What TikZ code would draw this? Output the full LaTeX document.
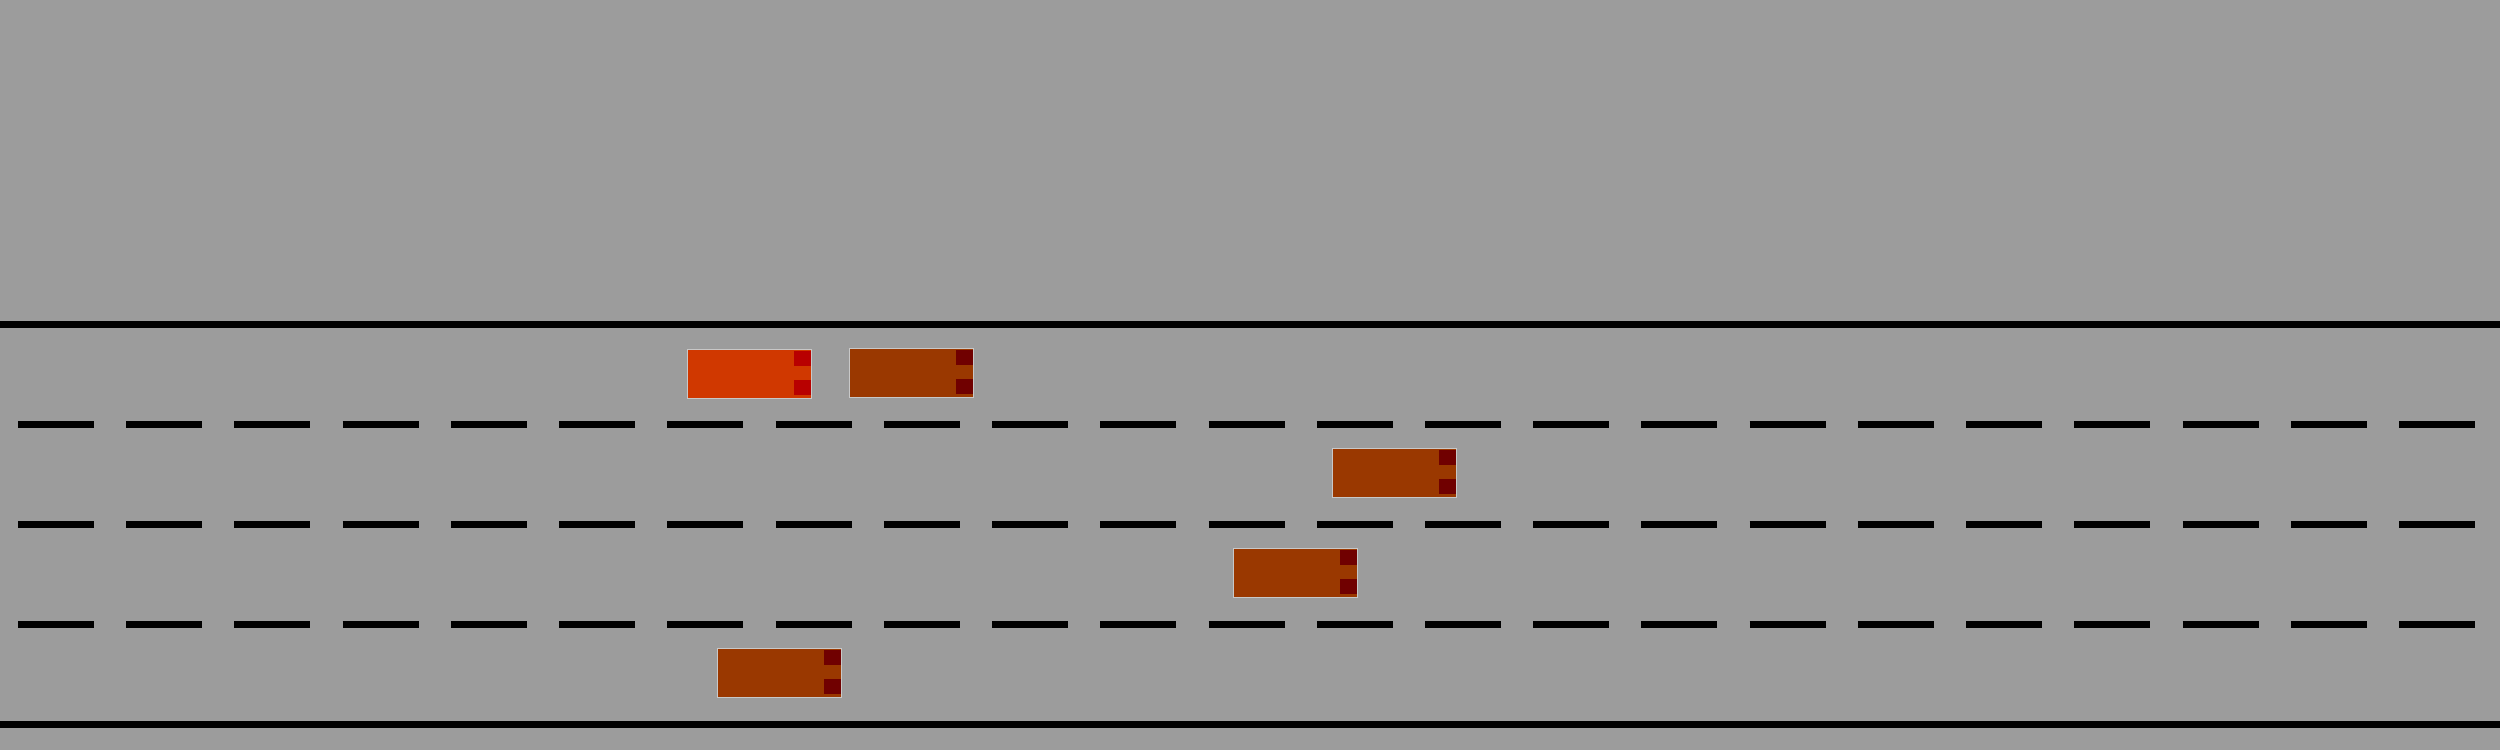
\documentclass[tikz,border=0pt]{standalone}
\definecolor{road}{RGB}{156,156,156}
\definecolor{egocar}{RGB}{208,56,0}
\definecolor{egolight}{RGB}{184,0,0}
\definecolor{othercar}{RGB}{154,56,0}
\definecolor{otherlight}{RGB}{112,0,0}
\definecolor{carborder}{RGB}{200,200,200}
\tikzset{
  edgeline/.style={line width=0.07cm, black},
  laneline/.style={line width=0.07cm, black},
  carbody/.style={draw=carborder, line width=0.015cm},
  carlight/.style={inner sep=0pt, outer sep=0pt},
}
% #1 name, #2 left x, #3 top y, #4 body colour, #5 light colour
\newcommand{\drawcar}[5]{%
  \path[carbody, fill=#4] (#2,#3) rectangle ++(124.4,49.4);
  \coordinate (#1) at ({#2+62.2},{#3+24.7});
  \fill[#5] ({#2+106.7},{#3+1.7}) rectangle ++(16.5,15);
  \fill[#5] ({#2+106.7},{#3+30.7}) rectangle ++(16.5,15);
}
\begin{document}
\begin{tikzpicture}[x=0.01cm, y=-0.01cm]
  \fill[road] (0,0) rectangle (2500,750);
  \useasboundingbox (0,0) rectangle (2500,750);
  % road edges
  \draw[edgeline] (0,324.5) -- (2500,324.5);
  \draw[edgeline] (0,724.5) -- (2500,724.5);
  % lane dashes
  \foreach \y in {424.5,524.5,624.5} {
    \foreach \i in {0,...,22} {
      \draw[laneline] ({18+108.23*\i},\y) -- ++(76,0);
    }
  }
  % cars
  \drawcar{ego}{687.3}{349.3}{egocar}{egolight}
  \drawcar{carA}{849.3}{348.3}{othercar}{otherlight}
  \drawcar{carB}{1332.3}{448.3}{othercar}{otherlight}
  \drawcar{carC}{1233.3}{548.3}{othercar}{otherlight}
  \drawcar{carD}{717.3}{648.3}{othercar}{otherlight}
\end{tikzpicture}
\end{document}
